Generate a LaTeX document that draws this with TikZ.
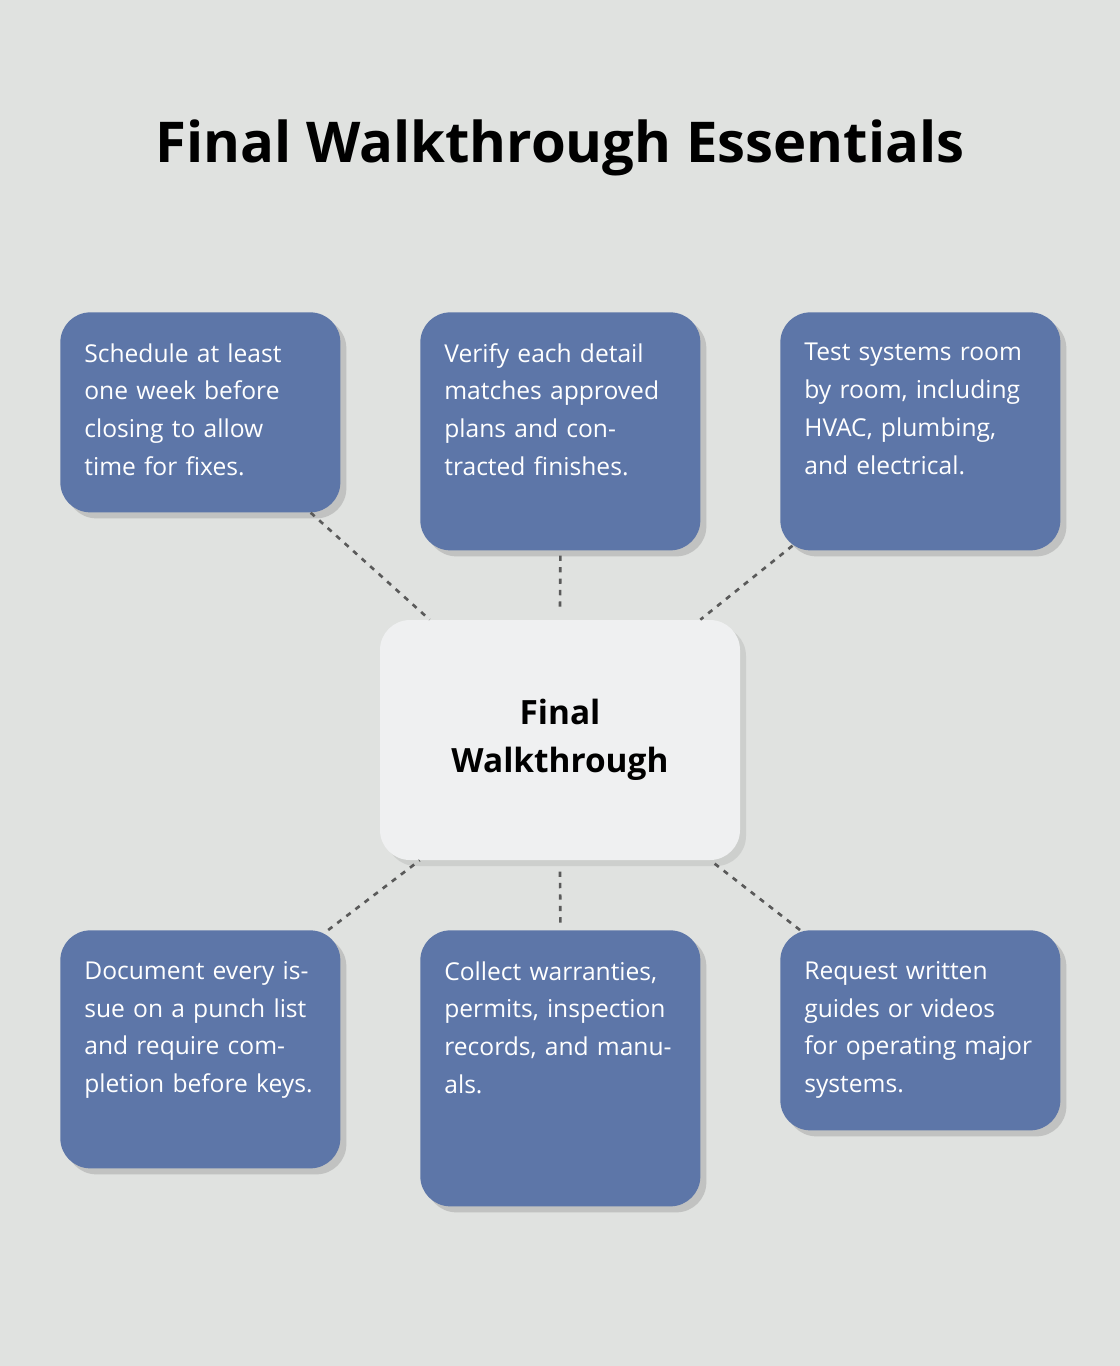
\documentclass[tikz,border=0pt]{standalone}
\usepackage{fontspec}
\setmainfont{Open Sans}
\usetikzlibrary{shadows,positioning}
\definecolor{bgGray}{HTML}{E0E2E0}
\definecolor{boxBlue}{HTML}{5D76A8}
\definecolor{hubWhite}{HTML}{EFF0F1}
\definecolor{lineGray}{HTML}{5A5A5A}
\tikzset{
  tip-box/.style={rectangle, rounded corners=0.6cm, minimum width=5.6cm, fill=boxBlue, draw=none,
    drop shadow={shadow xshift=0.12cm, shadow yshift=-0.12cm, opacity=0.25, fill=black!60}},
  tip-text/.style={anchor=north west, inner sep=0pt, text width=4.7cm, align=left, text=white,
    font=\fontsize{14}{21.5}\selectfont},
  hub-box/.style={rectangle, rounded corners=0.6cm, minimum width=7.2cm, minimum height=4.8cm, fill=hubWhite,
    align=center, font=\bfseries\fontsize{19}{27}\selectfont,
    drop shadow={shadow xshift=0.12cm, shadow yshift=-0.12cm, opacity=0.15, fill=black!60}},
  link/.style={draw=lineGray, line width=1.5pt, dash pattern=on 3pt off 3.5pt}
}
\begin{document}
\begin{tikzpicture}
  \fill[bgGray] (0,0) rectangle (22.4,-27.32);
  \useasboundingbox (0,0) rectangle (22.4,-27.32);

  \node (title) at (11.2,-2.95) {\bfseries\fontsize{32}{38}\selectfont Final Walkthrough Essentials};

  \node (hub) [hub-box] at (11.2,-14.8) {Final\\Walkthrough};

  % top row
  \node (tipA) [tip-box, minimum height=4cm, anchor=north west] at (1.2,-6.24) {};
  \node (txtA) [tip-text] at ([xshift=0.48cm, yshift=-0.62cm]tipA.north west) {Schedule at least one week before closing to allow time for fixes.};
  \node (tipB) [tip-box, minimum height=4.76cm, anchor=north west] at (8.4,-6.24) {};
  \node (txtB) [tip-text] at ([xshift=0.48cm, yshift=-0.62cm]tipB.north west) {Verify each detail matches approved plans and contracted finishes.};
  \node (tipC) [tip-box, minimum height=4.76cm, anchor=north west] at (15.6,-6.24) {};
  \node (txtC) [tip-text] at ([xshift=0.48cm, yshift=-0.62cm]tipC.north west) {Test systems room by room, including HVAC, plumbing, and electrical.};

  % bottom row
  \node (tipD) [tip-box, minimum height=4.76cm, anchor=north west] at (1.2,-18.6) {};
  \node (txtD) [tip-text] at ([xshift=0.48cm, yshift=-0.62cm]tipD.north west) {Document every issue on a punch list and require completion before keys.};
  \node (tipE) [tip-box, minimum height=5.52cm, anchor=north west] at (8.4,-18.6) {};
  \node (txtE) [tip-text] at ([xshift=0.48cm, yshift=-0.62cm]tipE.north west) {Collect warranties, permits, inspection records, and manuals.};
  \node (tipF) [tip-box, minimum height=4cm, anchor=north west] at (15.6,-18.6) {};
  \node (txtF) [tip-text] at ([xshift=0.48cm, yshift=-0.62cm]tipF.north west) {Request written guides or videos for operating major systems.};

  \begin{scope}[on background layer/.style={}]
  \draw [link] ([xshift=-0.6cm]tipA.south east) -- ([xshift=1cm]hub.north west);
  \draw [link] ([yshift=-0.1cm]tipB.south) -- ([yshift=0.15cm]hub.north);
  \draw [link] ([xshift=0.25cm, yshift=0.1cm]tipC.south west) -- ([xshift=-0.8cm]hub.north east);
  \draw [link] ([xshift=-0.25cm]tipD.north east) -- ([xshift=0.8cm]hub.south west);
  \draw [link] ([yshift=0.15cm]tipE.north) -- ([yshift=-0.15cm]hub.south);
  \draw [link] ([xshift=0.4cm]tipF.north west) -- ([xshift=-0.6cm]hub.south east);
  \end{scope}
\end{tikzpicture}
\end{document}
